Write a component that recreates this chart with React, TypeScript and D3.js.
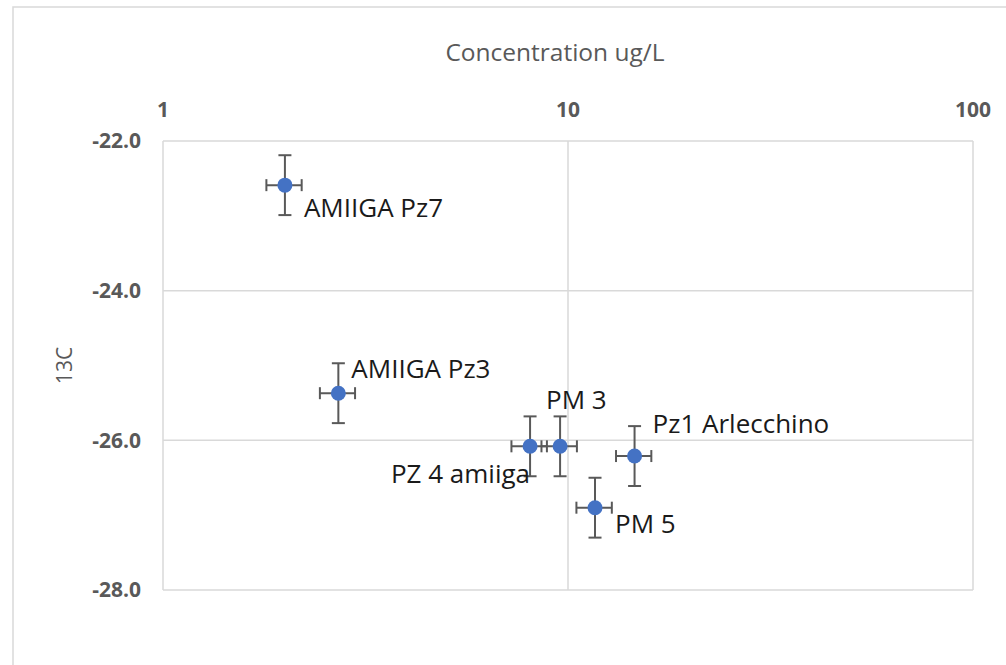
import React from "react";
import * as d3 from "d3";

const labels = ["AMIIGA Pz7", "AMIIGA Pz3", "PZ 4 amiiga", "PM 3", "Pz1 Arlecchino", "PM 5"];
const concentration = [2.0, 2.71, 8.06, 9.56, 14.6, 11.66];
const concErr = [0.2, 0.27, 0.81, 0.96, 1.46, 1.17];
const delta13C = [-22.59, -25.37, -26.08, -26.08, -26.21, -26.9];
const deltaErr = [0.4, 0.4, 0.4, 0.4, 0.4, 0.4];
const xTicks = [1, 10, 100];
const yTicks = [-22, -24, -26, -28];

// label layout (offsets from the point, in px)
const labelLayout = [
  { dx: 19, dy: 32, anchor: "start" },
  { dx: 13, dy: -15, anchor: "start" },
  { dx: 0, dy: 37, anchor: "end" },
  { dx: -14, dy: -37, anchor: "start" },
  { dx: 18, dy: -23, anchor: "start" },
  { dx: 20, dy: 25, anchor: "start" },
];

const W = 1006;
const H = 665;
const plot = { left: 163, right: 973, top: 141, bottom: 590 };
const grid = "#d9d9d9";
const axisText = "#595959";
const font = "'Open Sans', 'Segoe UI', sans-serif";
const fmtY = (v: number) => d3.format(".1f")(v).replace("\u2212", "-");

export default function App() {
  const x = d3.scaleLog().domain([1, 100]).range([plot.left, plot.right]);
  const y = d3.scaleLinear().domain([-22, -28]).range([plot.top, plot.bottom]);
  const errColor = "#595959";
  const capV = 6.5;
  const capH = 6;

  return (
    <div style={{ position: "fixed", left: 0, top: 0 }}>
      <svg width={W} height={H} style={{ display: "block", background: "#fff" }}>
        <rect x={13} y={7} width={W + 10} height={H + 10} fill="#fff" stroke={grid} strokeWidth={1.5} />
        {/* gridlines */}
        {xTicks.map((t) => (
          <line key={"gx" + t} x1={x(t)} x2={x(t)} y1={plot.top} y2={plot.bottom} stroke={grid} strokeWidth={1.5} />
        ))}
        {yTicks.map((t) => (
          <line key={"gy" + t} x1={plot.left} x2={plot.right} y1={y(t)} y2={y(t)} stroke={grid} strokeWidth={1.5} />
        ))}
        {/* tick labels */}
        {xTicks.map((t) => (
          <text key={"tx" + t} x={x(t)} y={117} textAnchor="middle" fontFamily={font} fontWeight={700} fontSize={21} fill={axisText}>
            {d3.format("d")(t)}
          </text>
        ))}
        {yTicks.map((t) => (
          <text key={"ty" + t} x={141} y={y(t)} dy="0.35em" textAnchor="end" fontFamily={font} fontWeight={700} fontSize={21} fill={axisText}>
            {fmtY(t)}
          </text>
        ))}
        {/* axis titles */}
        <text x={555} y={61} textAnchor="middle" fontFamily={font} fontSize={24.5} fill={axisText}>
          Concentration ug/L
        </text>
        <text transform={`translate(72, ${(plot.top + plot.bottom) / 2}) rotate(-90)`} textAnchor="middle" fontFamily={font} fontSize={21} fill={axisText}>
          13C
        </text>
        {/* error bars */}
        {labels.map((l, i) => {
          const cx = x(concentration[i]);
          const cy = y(delta13C[i]);
          const x0 = x(concentration[i] - concErr[i]);
          const x1 = x(concentration[i] + concErr[i]);
          const y0 = y(delta13C[i] + deltaErr[i]);
          const y1 = y(delta13C[i] - deltaErr[i]);
          return (
            <g key={"e" + l} stroke={errColor} strokeWidth={2}>
              <line x1={cx} x2={cx} y1={y0} y2={y1} />
              <line x1={cx - capV} x2={cx + capV} y1={y0} y2={y0} />
              <line x1={cx - capV} x2={cx + capV} y1={y1} y2={y1} />
              <line x1={x0} x2={x1} y1={cy} y2={cy} />
              <line x1={x0} x2={x0} y1={cy - capH} y2={cy + capH} />
              <line x1={x1} x2={x1} y1={cy - capH} y2={cy + capH} />
            </g>
          );
        })}
        {/* points */}
        {labels.map((l, i) => (
          <circle key={"p" + l} cx={x(concentration[i])} cy={y(delta13C[i])} r={7.5} fill="#4472C4" />
        ))}
        {/* data labels */}
        {labels.map((l, i) => (
          <text
            key={"l" + l}
            x={x(concentration[i]) + labelLayout[i].dx}
            y={y(delta13C[i]) + labelLayout[i].dy}
            textAnchor={labelLayout[i].anchor as any}
            fontFamily={font}
            fontSize={26}
            fill="#1a1a1a"
          >
            {l}
          </text>
        ))}
      </svg>
    </div>
  );
}
